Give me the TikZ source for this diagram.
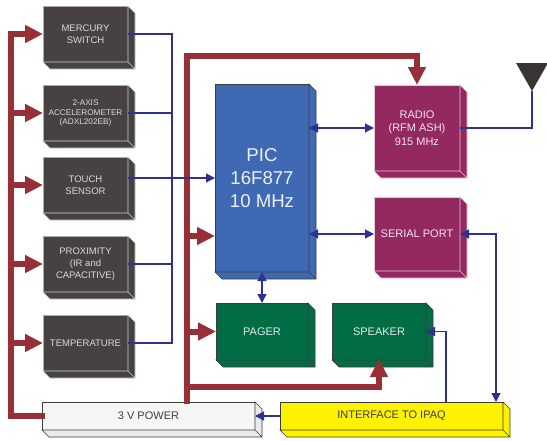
\documentclass[tikz,border=0pt]{standalone}
\usepackage{fontspec}
\setmainfont{Liberation Sans}
\usetikzlibrary{positioning,arrows.meta}
\definecolor{cSensor}{RGB}{71,66,66}
\definecolor{cPic}{RGB}{63,106,179}
\definecolor{cRadio}{RGB}{147,41,94}
\definecolor{cPager}{RGB}{2,108,69}
\definecolor{cPower}{RGB}{246,246,244}
\definecolor{cIface}{RGB}{255,242,0}
\definecolor{cBus}{RGB}{152,47,54}
\definecolor{cSig}{RGB}{46,49,146}
\definecolor{cEdge}{RGB}{60,60,60}
\tikzset{
  block/.style={
    rectangle, line width=0.9pt, align=center, inner sep=0pt, outer sep=0pt,
    font=\fontsize{11}{13.3}\selectfont,
  },
  sensor/.style={
    block, fill=cSensor, draw=cSensor!45, text=white!85!black,
    minimum width=85pt, minimum height=56pt,
    font=\fontsize{9.5}{11.7}\selectfont,
  },
  micro/.style={
    block, fill=cPic, draw=cEdge, text=white!90!cPic,
    minimum width=94pt, minimum height=188pt,
    font=\fontsize{18.6}{23}\selectfont,
  },
  radiobox/.style={
    block, fill=cRadio, draw=cRadio!25, text=white!88!cRadio,
    minimum width=86pt,
  },
  greenbox/.style={
    block, fill=cPager, draw=cEdge, text=white!88!cPager,
    minimum height=57pt,
  },
  powerbox/.style={
    block, draw=cEdge, text=cEdge, minimum height=28pt,
  },
  face/.style={line width=0.6pt, line join=miter},
  bus/.style={-{Triangle[length=18pt,width=17pt]}, line width=6pt, draw=cBus},
  sig/.style={line width=1.3pt, draw=cSig},
  sigarr/.style={sig, -{Triangle[length=9pt,width=9pt]}},
  sigboth/.style={sig, {Triangle[length=9pt,width=9pt]}-{Triangle[length=9pt,width=9pt]}},
}
\begin{document}
\begin{tikzpicture}[x=1pt,y=-1pt]
\useasboundingbox (0,0) rectangle (547,440);

% sensors
\node[sensor] (mercury) at (85.5,34) {MERCURY\\SWITCH};
\node[sensor, below=23pt of mercury, font=\fontsize{8.2}{9.6}\selectfont] (accel) {2-AXIS\\ACCELEROMETER\\(ADXL202EB)};
\node[sensor, below=16pt of accel] (touch) {TOUCH\\SENSOR};
\node[sensor, below=23pt of touch] (prox) {PROXIMITY\\(IR and\\CAPACITIVE)};
\node[sensor, below=23pt of prox] (temp) {TEMPERATURE};

% main blocks
\node[micro] (pic) at (262,178) {PIC\\16F877\\10 MHz};
\node[radiobox, minimum height=86pt] (radio) at (417,128) {RADIO\\(RFM ASH)\\915 MHz};
\node[radiobox, minimum height=74pt, below=26pt of radio] (serial) {SERIAL PORT};
\node[greenbox, minimum width=92pt, below=31pt of pic] (pager) {PAGER};
\node[greenbox, minimum width=94pt, right=24pt of pager] (speaker) {SPEAKER};
\node[powerbox, fill=cPower, minimum width=213pt] (power) at (148.5,416) {3 V POWER};
\node[powerbox, fill=cIface, minimum width=223pt, right=25pt of power] (iface) {INTERFACE TO IPAQ};

% side faces
\foreach \n/\c/\e in {mercury/cSensor/white!80!black, accel/cSensor/white!80!black, touch/cSensor/white!80!black,
    prox/cSensor/white!80!black, temp/cSensor/white!80!black, pic/cPic/cEdge, radio/cRadio/cRadio!25,
    serial/cRadio/cRadio!25, pager/cPager/cEdge, speaker/cPager/cEdge, power/white!92!black/cEdge, iface/cIface/cEdge}
  \draw[face, fill=\c, draw=\e] (\n.north east) -- ([shift={(7,7)}]\n.north east)
    -- ([shift={(7,7)}]\n.south east) -- ([shift={(7,7)}]\n.south west)
    -- (\n.south west) -- (\n.south east) -- cycle
    (\n.south east) -- ([shift={(7,7)}]\n.south east);

% antenna
\coordinate (antenna) at (532,91);
\fill[cSensor!80!black] (antenna) -- ++(-16,-28) -- ++(32,0) -- cycle;

% power
\coordinate[left=32pt of mercury.west] (busleft);
\coordinate (busright) at (186.5,56);
\coordinate (busmid) at (186.5,387);
\draw[bus] ([xshift=3pt]power.west) -| (busleft) -- (mercury.west);
\foreach \n in {accel,touch,prox,temp}
  \draw[bus] (\n.west -| busleft) -- (\n.west);
\draw[bus] ([yshift=-2pt]power.north -| busright) -- (busright) -| (radio.north);
\draw[bus] ([yshift=-58pt]pic.west -| busright) -- ([yshift=-58pt]pic.west);
\draw[bus] (pager.west -| busright) -- (pager.west);
\draw[bus] (busmid) -| ([yshift=1pt]speaker.south);

% signals
\coordinate[right=44pt of mercury.east] (sigbus);
\draw[sig] (mercury.east) -- (sigbus) -- (temp.east -| sigbus) -- (temp.east);
\draw[sig] (accel.east) -- (accel.east -| sigbus);
\draw[sig] (prox.east) -- (prox.east -| sigbus);
\draw[sigarr] ([yshift=7pt]touch.east) -- ([yshift=7pt]touch.east -| pic.west);
\draw[sigboth] (pic.east |- radio.west) -- (radio.west);
\draw[sigboth] (pic.east |- serial.west) -- (serial.west);
\draw[sigboth] (pic.south) -- (pager.north);
\draw[sig] (radio.east) -| (antenna);
\draw[sigboth] (serial.east) -| ([xshift=104.5pt]iface.north);
\draw[sigarr] ([xshift=54.5pt]iface.north) |- (speaker.east);
\draw[sigarr] (iface.west) -- (power.east);

\end{tikzpicture}
\end{document}
